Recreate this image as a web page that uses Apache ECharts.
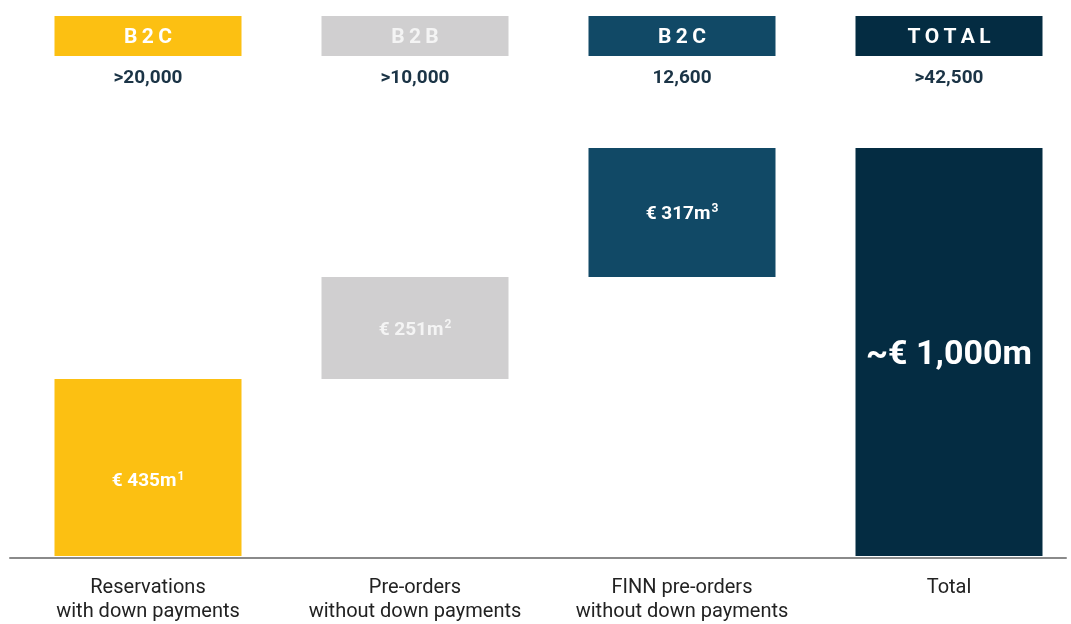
<!DOCTYPE html>
<html>
<head>
<meta charset="utf-8">
<title>Order backlog</title>
<script src="https://cdn.jsdelivr.net/npm/echarts@6/dist/echarts.min.js"></script>
<style>
  html, body { margin: 0; padding: 0; background: #fff; }
  #chart { width: 1071px; height: 624px; }
</style>
</head>
<body>
<div id="chart"></div>
<script>
// data
const categories = ['Reservations\nwith down payments', 'Pre-orders\nwithout down payments', 'FINN pre-orders\nwithout down payments', 'Total']
const segments = ['B2C', 'B2B', 'B2C', 'TOTAL']
const counts = ['>20,000', '>10,000', '12,600', '>42,500']
const stepValues = [435, 251, 317]          // € m
const footnotes = ['1', '2', '3']
const totalLabel = '~€ 1,000m'
const colors = ['#FCC012', '#D0CFD0', '#114966', '#042C42']

// waterfall: invisible base + visible step
const total = stepValues.reduce((a, b) => a + b, 0)
const bases = []
let run = 0
stepValues.forEach(v => { bases.push(run); run += v })

const chart = echarts.init(document.getElementById('chart'))
const font = 'Roboto, "Noto Sans", sans-serif'
const barW = 187
// spread header letters a little, like the source deck
const spaced = s => s.split('').join('\u2009')

// columns sit on the ticks (boundaryGap false) so the outer bars can reach the edges
const colGrid = { left: 148, width: 801 }

chart.setOption({
  animation: false,
  textStyle: { fontFamily: font },
  grid: [
    Object.assign({ top: 16, height: 40 }, colGrid),
    Object.assign({ top: 148, bottom: 65 }, colGrid),
    { left: 10, right: 5, top: 148, bottom: 66 }   // full-width baseline
  ],
  xAxis: [
    {
      gridIndex: 0,
      type: 'category',
      boundaryGap: false,
      data: counts,
      axisLine: { show: false },
      axisTick: { show: false },
      axisLabel: { interval: 0, margin: 13, fontSize: 19, fontWeight: 'bold', color: '#1B3446', fontFamily: font }
    },
    {
      gridIndex: 1,
      type: 'category',
      boundaryGap: false,
      data: categories,
      axisLine: { show: false },
      axisTick: { show: false },
      axisLabel: { interval: 0, margin: 20, fontSize: 20, lineHeight: 24, color: '#222', fontFamily: font }
    },
    {
      gridIndex: 2,
      type: 'value',
      axisLine: { show: true, lineStyle: { color: '#8a8a8a', width: 2 } },
      axisTick: { show: false },
      axisLabel: { show: false },
      splitLine: { show: false }
    }
  ],
  yAxis: [
    { gridIndex: 0, type: 'value', min: 0, max: 1, show: false },
    { gridIndex: 1, type: 'value', min: 0, max: total, show: false },
    { gridIndex: 2, type: 'value', min: 0, max: total, show: false }
  ],
  series: [
    {
      type: 'bar',
      xAxisIndex: 0,
      yAxisIndex: 0,
      barWidth: barW,
      clip: false,
      data: segments.map((s, i) => ({
        value: 1,
        itemStyle: { color: colors[i] },
        label: { formatter: spaced(s), color: i === 1 ? '#F4F4F4' : '#FFFFFF' }
      })),
      label: { show: true, position: 'inside', offset: [0, 2], fontSize: 21, fontWeight: 'bold', fontFamily: font }
    },
    {
      type: 'bar',
      xAxisIndex: 1,
      yAxisIndex: 1,
      stack: 'wf',
      barWidth: barW,
      clip: false,
      itemStyle: { color: 'transparent' },
      data: bases.concat([0])
    },
    {
      type: 'bar',
      xAxisIndex: 1,
      yAxisIndex: 1,
      stack: 'wf',
      barWidth: barW,
      clip: false,
      data: stepValues.map((v, i) => ({
        value: v,
        itemStyle: { color: colors[i] },
        label: {
          show: true,
          position: 'inside',
          offset: i === 0 ? [0, 14] : [0, 2],
          formatter: '{v|€ ' + v + 'm}{s|' + footnotes[i] + '}',
          rich: {
            v: { fontSize: 19, fontWeight: 'bold', color: i === 1 ? '#F4F4F4' : '#fff', fontFamily: font },
            s: { fontSize: 12, fontWeight: 'bold', color: i === 1 ? '#F4F4F4' : '#fff', padding: [0, 0, 10, 1], fontFamily: font }
          }
        }
      })).concat([{
        value: total,
        itemStyle: { color: colors[3] },
        label: {
          show: true,
          position: 'inside',
          offset: [0, 3],
          formatter: totalLabel,
          fontSize: 34,
          fontWeight: 'bold',
          color: '#fff',
          fontFamily: font
        }
      }])
    }
  ]
})
</script>
</body>
</html>
